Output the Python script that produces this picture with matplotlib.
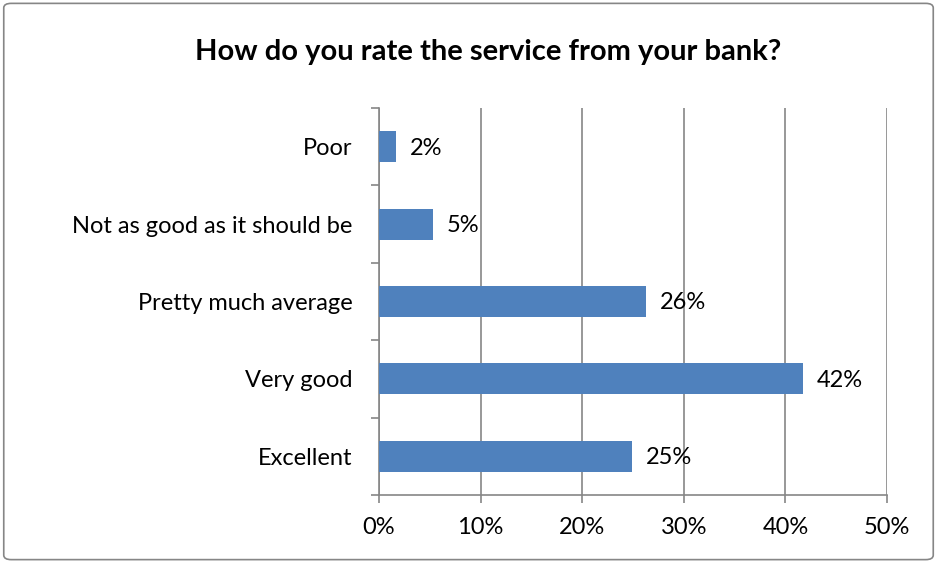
import matplotlib
matplotlib.use('Agg')
from matplotlib import pyplot as plt
from matplotlib.patches import FancyBboxPatch
from matplotlib.ticker import MultipleLocator, FixedLocator, PercentFormatter

# Survey answers, bottom to top as drawn
categories = ['Excellent', 'Very good', 'Pretty much average', 'Not as good as it should be', 'Poor']
shares = [24.9, 41.7, 26.3, 5.3, 1.7]
share_labels = ['25%', '42%', '26%', '5%', '2%']

title = 'How do you rate the service from your bank?'

plt.rcParams['font.family'] = ['Lato', 'DejaVu Sans']

def main():
    fig = plt.figure(figsize=(9.37, 5.63), dpi=100)
    ax = fig.add_axes([0.4045, 0.1208, 0.5422, 0.6874])

    pos = list(range(len(categories)))
    ax.barh(pos, shares, height=0.4, color='#4F81BD', zorder=3)

    for p, v, lab in zip(pos, shares, share_labels):
        ax.annotate(lab, (v, p), xytext=(10, -1), textcoords='offset points',
                    ha='left', va='center', fontsize=17, color='black', zorder=4)

    ax.set_xlim(0, 50)
    ax.set_ylim(-0.5, len(categories) - 0.5)
    ax.xaxis.set_major_locator(MultipleLocator(10))
    ax.xaxis.set_major_formatter(PercentFormatter(decimals=0))
    ax.set_yticks(pos)
    ax.set_yticklabels(categories)
    ax.yaxis.set_minor_locator(FixedLocator([i - 0.5 for i in range(len(categories) + 1)]))

    ax.grid(axis='x', color='#868686', linewidth=1.2, zorder=0)
    for side in ['top', 'right']:
        ax.spines[side].set_visible(False)
    for side in ['left', 'bottom']:
        ax.spines[side].set_color('#868686')
        ax.spines[side].set_linewidth(1.2)

    ax.tick_params(axis='y', which='major', length=0, pad=19, labelsize=17)
    ax.tick_params(axis='y', which='minor', length=6, width=1.2, color='#868686')
    ax.tick_params(axis='x', which='major', length=6, width=1.2, color='#868686',
                   labelsize=17, pad=10)

    fig.text(0.521, 0.907, title, ha='center', va='center', fontsize=21, fontweight='bold')

    border = FancyBboxPatch((0.004, 0.006), 0.992, 0.988, boxstyle='round,pad=0,rounding_size=0.008',
                            transform=fig.transFigure, fill=False, edgecolor='#868686', linewidth=1.2)
    fig.patches.append(border)

    fig.savefig('out.png', dpi=100)
    plt.close(fig)

if __name__ == '__main__':
    main()
